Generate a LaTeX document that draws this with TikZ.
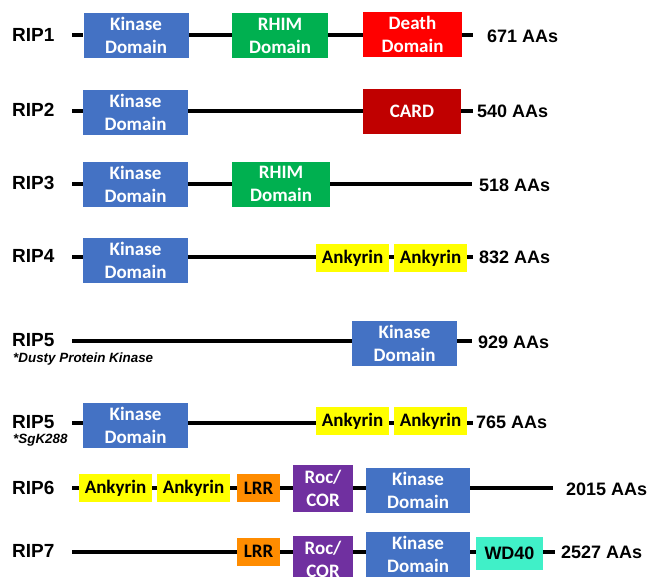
\documentclass[tikz,border=0pt]{standalone}
\usepackage{fontspec}
\setmainfont{Liberation Sans}
\newfontfamily\boxfont{Carlito}
\usetikzlibrary{backgrounds}
\definecolor{kinblue}{HTML}{4472C4}
\definecolor{rhimgreen}{HTML}{00B050}
\definecolor{deathred}{HTML}{FF0000}
\definecolor{cardred}{HTML}{C00000}
\definecolor{ankyellow}{HTML}{FFFF00}
\definecolor{lrrorange}{HTML}{FF8C00}
\definecolor{rocpurple}{HTML}{7030A0}
\definecolor{wdaqua}{HTML}{40F0C8}
\begin{document}
\begin{tikzpicture}[x=1pt,y=-1pt,
  dom/.style={draw=none, inner sep=0pt, align=center,
    font=\boxfont\bfseries\fontsize{19}{23}\selectfont},
  kinase/.style={dom, fill=kinblue, text=white, minimum width=105pt, minimum height=45pt},
  rhim/.style={dom, fill=rhimgreen, text=white, minimum width=96pt, minimum height=45pt},
  death/.style={dom, fill=deathred, text=white, minimum width=99pt, minimum height=45pt},
  card/.style={dom, fill=cardred, text=white, minimum width=98pt, minimum height=45pt},
  ank/.style={dom, fill=ankyellow, text=black, minimum width=73pt, minimum height=28pt},
  lrr/.style={dom, fill=lrrorange, text=black, minimum width=43pt, minimum height=28pt},
  roc/.style={dom, fill=rocpurple, text=white, minimum width=60pt, minimum height=47pt},
  wd/.style={dom, fill=wdaqua, text=black, minimum width=67pt, minimum height=33pt,
    font=\bfseries\fontsize{18}{22}\selectfont},
  riplbl/.style={anchor=west, inner sep=0pt, font=\bfseries\fontsize{19}{22}\selectfont},
  sublbl/.style={anchor=west, inner sep=0pt, font=\bfseries\itshape\fontsize{13.4}{15}\selectfont},
  aalbl/.style={anchor=west, inner sep=0pt, font=\bfseries\fontsize{18}{22}\selectfont},
  bb/.style={line width=4pt, draw=black}
]
\useasboundingbox (0,0) rectangle (647,576);
\clip (0,0) rectangle (647,576);

% ---------- RIP1 ----------
\node[riplbl] (l1) at (12,35) {RIP1};
\coordinate (s1) at (72,35);
\node[kinase] (k1) at (136,35.5) {Kinase\\Domain};
\node[rhim] (r1) at (280,35.5) {RHIM\\Domain};
\node[death] (d1) at (412.5,34.5) {Death\\Domain};
\coordinate (e1) at (473,35);
\node[aalbl] (a1) at (487,36) {671 AAs};
\begin{scope}[on background layer]
\draw[bb] (s1) -- (k1.west |- s1);
\draw[bb] (k1.east |- s1) -- (r1.west |- s1);
\draw[bb] (r1.east |- s1) -- (d1.west |- s1);
\draw[bb] (d1.east |- s1) -- (e1);
\end{scope}

% ---------- RIP2 ----------
\node[riplbl] (l2) at (12,110) {RIP2};
\coordinate (s2) at (72,111);
\node[kinase] (k2) at (135.5,112) {Kinase\\Domain};
\node[card] (c2) at (412,111.5) {CARD};
\coordinate (e2) at (473,111);
\node[aalbl] (a2) at (477,111) {540 AAs};
\begin{scope}[on background layer]
\draw[bb] (s2) -- (k2.west |- s2);
\draw[bb] (k2.east |- s2) -- (c2.west |- s2);
\draw[bb] (c2.east |- s2) -- (e2);
\end{scope}

% ---------- RIP3 ----------
\node[riplbl] (l3) at (12,183) {RIP3};
\coordinate (s3) at (72,184);
\node[kinase] (k3) at (135.5,184.5) {Kinase\\Domain};
\node[rhim, minimum width=98pt] (r3) at (281,184) {RHIM\\Domain};
\coordinate (e3) at (472,184);
\node[aalbl] (a3) at (479,185) {518 AAs};
\begin{scope}[on background layer]
\draw[bb] (s3) -- (k3.west |- s3);
\draw[bb] (k3.east |- s3) -- (r3.west |- s3);
\draw[bb] (r3.east |- s3) -- (e3);
\end{scope}

% ---------- RIP4 ----------
\node[riplbl] (l4) at (12,256) {RIP4};
\coordinate (s4) at (72,257);
\node[kinase] (k4) at (135.5,260.5) {Kinase\\Domain};
\node[ank] (n4a) at (352.5,258) {Ankyrin};
\node[ank] (n4b) at (430.5,258) {Ankyrin};
\coordinate (e4) at (473,257);
\node[aalbl] (a4) at (479,257) {832 AAs};
\begin{scope}[on background layer]
\draw[bb] (s4) -- (k4.west |- s4);
\draw[bb] (k4.east |- s4) -- (n4a.west |- s4);
\draw[bb] (n4a.east |- s4) -- (n4b.west |- s4);
\draw[bb] (n4b.east |- s4) -- (e4);
\end{scope}

% ---------- RIP5 (Dusty) ----------
\node[riplbl] (l5) at (12,340) {RIP5};
\node[sublbl] (u5) at (13,359) {*Dusty Protein Kinase};
\coordinate (s5) at (72,341);
\node[kinase] (k5) at (404.5,343) {Kinase\\Domain};
\coordinate (e5) at (472,341);
\node[aalbl] (a5) at (478,342) {929 AAs};
\begin{scope}[on background layer]
\draw[bb] (s5) -- (k5.west |- s5);
\draw[bb] (k5.east |- s5) -- (e5);
\end{scope}

% ---------- RIP5 (SgK288) ----------
\node[riplbl] (l6) at (12,422) {RIP5};
\node[sublbl] (u6) at (13,440) {*SgK288};
\coordinate (s6) at (72,423);
\node[kinase] (k6) at (135.5,425.5) {Kinase\\Domain};
\node[ank] (n6a) at (352.5,421) {Ankyrin};
\node[ank] (n6b) at (430.5,421) {Ankyrin};
\coordinate (e6) at (473,423);
\node[aalbl] (a6) at (476,422) {765 AAs};
\begin{scope}[on background layer]
\draw[bb] (s6) -- (k6.west |- s6);
\draw[bb] (k6.east |- s6) -- (n6a.west |- s6);
\draw[bb] (n6a.east |- s6) -- (n6b.west |- s6);
\draw[bb] (n6b.east |- s6) -- (e6);
\end{scope}

% ---------- RIP6 ----------
\node[riplbl] (l7) at (12,488) {RIP6};
\coordinate (s7) at (72,488);
\node[ank] (n7a) at (115.5,488) {Ankyrin};
\node[ank] (n7b) at (193.5,488) {Ankyrin};
\node[lrr] (q7) at (258.5,488) {LRR};
\node[roc] (o7) at (323,488.5) {Roc/\\COR};
\node[kinase, minimum width=104pt] (k7) at (418,490) {Kinase\\Domain};
\coordinate (e7) at (553,488);
\node[aalbl] (a7) at (566,489) {2015 AAs};
\begin{scope}[on background layer]
\draw[bb] (s7) -- (n7a.west |- s7);
\draw[bb] (n7a.east |- s7) -- (n7b.west |- s7);
\draw[bb] (n7b.east |- s7) -- (q7.west |- s7);
\draw[bb] (q7.east |- s7) -- (o7.west |- s7);
\draw[bb] (o7.east |- s7) -- (k7.west |- s7);
\draw[bb] (k7.east |- s7) -- (e7);
\end{scope}

% ---------- RIP7 ----------
\node[riplbl] (l8) at (12,551) {RIP7};
\coordinate (s8) at (72,552);
\node[lrr] (q8) at (258.5,551.5) {LRR};
\node[roc] (o8) at (323,559.5) {Roc/\\COR};
\node[kinase, minimum width=104pt] (k8) at (418,554) {Kinase\\Domain};
\node[wd] (w8) at (509.5,553.5) {WD40};
\coordinate (e8) at (555,552);
\node[aalbl] (a8) at (561,552) {2527 AAs};
\begin{scope}[on background layer]
\draw[bb] (s8) -- (q8.west |- s8);
\draw[bb] (q8.east |- s8) -- (o8.west |- s8);
\draw[bb] (o8.east |- s8) -- (k8.west |- s8);
\draw[bb] (k8.east |- s8) -- (w8.west |- s8);
\draw[bb] (w8.east |- s8) -- (e8);
\end{scope}
\end{tikzpicture}
\end{document}
